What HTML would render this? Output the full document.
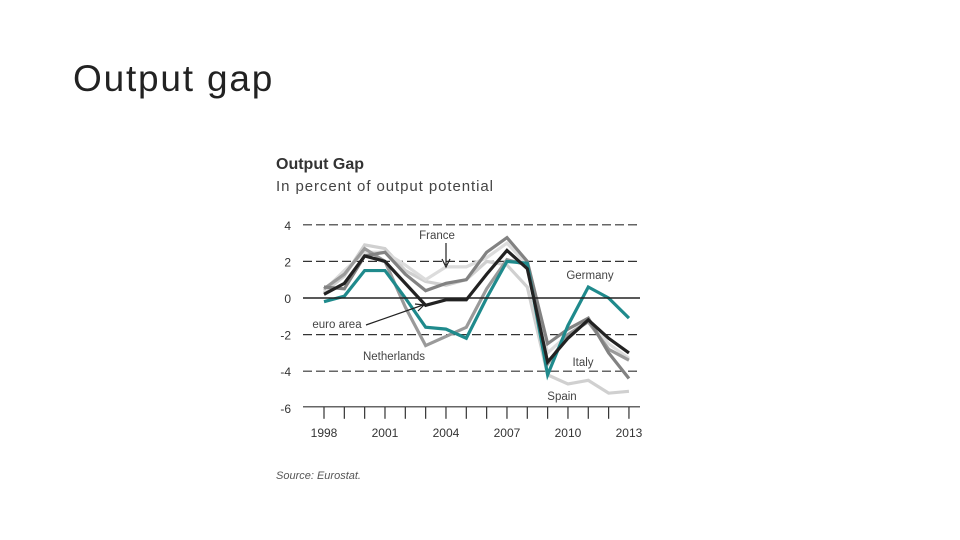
<!DOCTYPE html>
<html><head><meta charset="utf-8"><style>
body{margin:0;width:960px;height:540px;background:#fff;overflow:hidden;font-family:"Liberation Sans",sans-serif}
#t{position:absolute;left:73px;top:58px;font-size:37px;color:#222;letter-spacing:1.8px}
</style></head><body>
<div id="t">Output gap</div>
<svg id="c" width="960" height="540" style="position:absolute;left:0;top:0">
<text x="276" y="169" font-size="16" font-weight="bold" fill="#333">Output Gap</text>
<text x="276" y="191" font-size="15" fill="#444" textLength="217">In percent of output potential</text>
<text x="276" y="479" font-size="11" font-style="italic" fill="#555">Source: Eurostat.</text>
<g id="g"></g>
</svg>
<script>
const years=[1998,1999,2000,2001,2002,2003,2004,2005,2006,2007,2008,2009,2010,2011,2012,2013];
const yTicks=[4,2,0,-2,-4,-6];
const xLabels=[1998,2001,2004,2007,2010,2013];
const spain=[0.3,1.2,2.9,2.7,1.5,0.9,0.7,1.0,2.0,1.8,0.6,-4.2,-4.7,-4.5,-5.2,-5.1];
const france=[0.4,1.5,2.5,2.5,1.8,1.0,1.7,1.7,2.2,3.0,1.8,-3.0,-2.0,-1.2,-2.5,-3.3];
const netherlands=[0.5,1.3,2.7,2.0,-0.5,-2.6,-2.1,-1.6,0.5,2.1,1.8,-3.6,-2.0,-1.3,-2.8,-3.4];
const italy=[0.6,0.5,2.3,2.5,1.3,0.4,0.8,1.0,2.5,3.3,2.0,-2.5,-1.7,-1.1,-3.0,-4.4];
const germany=[-0.2,0.1,1.5,1.5,0.0,-1.6,-1.7,-2.2,0.0,2.0,1.9,-4.2,-1.5,0.6,0.0,-1.1];
const euroArea=[0.2,0.8,2.3,2.0,0.8,-0.4,-0.1,-0.1,1.3,2.6,1.6,-3.5,-2.2,-1.2,-2.2,-3.0];
const NS="http://www.w3.org/2000/svg",g=document.getElementById('g');
const X=y=>324+(y-1998)*20.33, Y=v=>298-v*18.3;
function mk(t,a){const e=document.createElementNS(NS,t);for(const k in a)e.setAttribute(k,a[k]);g.appendChild(e);return e;}
yTicks.forEach(v=>{
 if(v>-6&&v!==0){const l=mk('line',{x1:303,x2:640,y1:Y(v),y2:Y(v),stroke:'#333','stroke-width':1.2,'stroke-dasharray':'9,4'});
 
 }
 const t=mk('text',{x:291,y:Y(v)+5,'font-size':12,fill:'#333','text-anchor':'end'});t.textContent=v;
 
 
});
const ax=mk('line',{x1:303,x2:640,y1:Y(-6)-1,y2:Y(-6)-1,stroke:'#333','stroke-width':1.2});


years.forEach(y=>{const l=mk('line',{x1:X(y),x2:X(y),y1:Y(-6)-1,y2:Y(-6)+11,stroke:'#333','stroke-width':1.2});
 
 });
xLabels.forEach(y=>{const t=mk('text',{x:X(y),y:437,'font-size':12,fill:'#333','text-anchor':'middle'});t.textContent=y;
 
 });
const series=[['spain',spain,'#d0d0d0'],['france',france,'#dcdcdc'],['netherlands',netherlands,'#9a9a9a'],['italy',italy,'#828282'],['germany',germany,'#1f8a8c'],['euro-area',euroArea,'#222']];
series.forEach(([n,d,c])=>{const p=mk('polyline',{points:d.map((v,i)=>X(years[i])+','+Y(v)).join(' '),fill:'none',stroke:c,'stroke-width':3.2,'stroke-linejoin':'miter'});
 
 });
const zl=mk('line',{x1:303,x2:640,y1:Y(0),y2:Y(0),stroke:'#222','stroke-width':1.5});


const labs=[['France',437,239],['Germany',590,279],['euro area',337,328],['Netherlands',394,360],['Italy',583,366],['Spain',562,400]];
labs.forEach(([s,x,y])=>{const t=mk('text',{x:x,y:y,'font-size':11.5,fill:'#444','text-anchor':'middle'});t.textContent=s;
 
 });
const a1=mk('path',{d:'M446,243 L446,265 M442,259 L446,267 L450,259',stroke:'#222',fill:'none','stroke-width':1.2});


const a2=mk('path',{d:'M366,325 L423,305 M415,304 L424,305 L418,311',stroke:'#222',fill:'none','stroke-width':1.2});


</script>
</body></html>
